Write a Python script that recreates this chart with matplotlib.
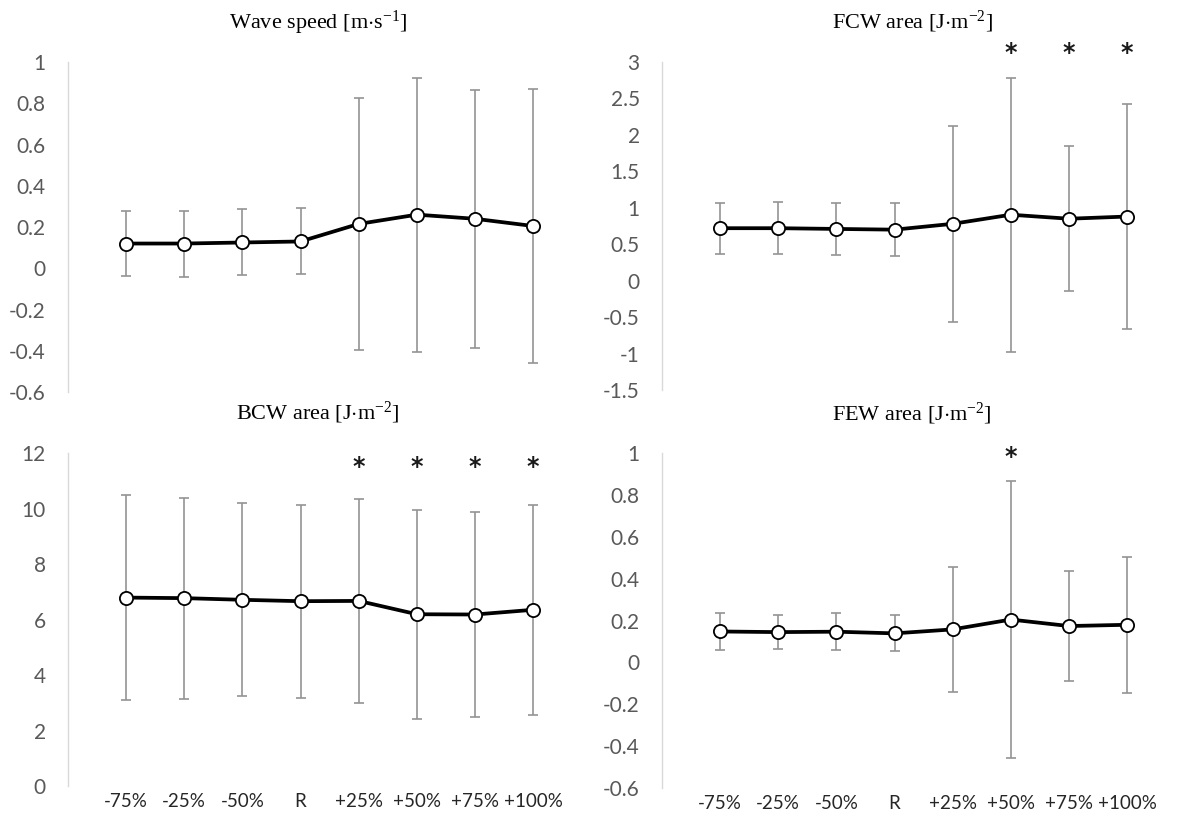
import numpy as np
import matplotlib
matplotlib.use("Agg")
import matplotlib.pyplot as plt

plt.rcParams['mathtext.fontset'] = 'custom'
plt.rcParams['mathtext.rm'] = 'Liberation Serif'
plt.rcParams['mathtext.it'] = 'Liberation Serif:italic'

labels = ['-75%', '-25%', '-50%', 'R', '+25%', '+50%', '+75%', '+100%']

# wave speed [m/s]
wave_mean = [0.12, 0.12, 0.125, 0.13, 0.215, 0.26, 0.24, 0.205]
wave_sd = [0.158, 0.16, 0.16, 0.16, 0.61, 0.665, 0.625, 0.665]

# FCW area
fcw_mean = [0.72, 0.72, 0.71, 0.70, 0.78, 0.905, 0.85, 0.88]
fcw_sd = [0.35, 0.354, 0.352, 0.359, 1.343, 1.877, 0.998, 1.548]
fcw_star = [5, 6, 7]

# BCW area
bcw_mean = [6.79, 6.77, 6.71, 6.66, 6.67, 6.19, 6.18, 6.35]
bcw_sd = [3.68, 3.62, 3.475, 3.48, 3.68, 3.765, 3.705, 3.785]
bcw_star = [4, 5, 6, 7]

# FEW area
few_mean = [0.148, 0.145, 0.147, 0.139, 0.158, 0.205, 0.174, 0.18]
few_sd = [0.09, 0.082, 0.089, 0.086, 0.30, 0.66, 0.265, 0.324]
few_star = [5]

panels = [
    (r'Wave speed [m$\cdot$s$^{-1}$]', wave_mean, wave_sd, [], None, np.arange(-0.6, 1.01, 0.2), False,
     [0.0574, 0.5178, 0.4223, 0.4059]),
    (r'FCW area [J$\cdot$m$^{-2}$]', fcw_mean, fcw_sd, fcw_star, 3.12, np.arange(-1.5, 3.01, 0.5), False,
     [0.5591, 0.5203, 0.4223, 0.4034]),
    (r'BCW area [J$\cdot$m$^{-2}$]', bcw_mean, bcw_sd, bcw_star, 11.5, np.arange(0, 12.01, 2), True,
     [0.0574, 0.0332, 0.4223, 0.4096]),
    (r'FEW area [J$\cdot$m$^{-2}$]', few_mean, few_sd, few_star, 0.98, np.arange(-0.6, 1.01, 0.2), True,
     [0.5591, 0.0308, 0.4223, 0.4117]),
]

fig = plt.figure(figsize=(11.84, 8.13), dpi=100)
x = np.arange(len(labels))

for title, mean, sd, stars, star_y, yt, show_x, pos in panels:
    ax = fig.add_axes(pos)
    ax.errorbar(x, mean, yerr=sd, fmt='none', ecolor='#939393', elinewidth=1.2,
                capsize=3.5, capthick=1.2, zorder=2)
    ax.plot(x, mean, color='black', lw=2.7, marker='o', markersize=9.5,
            markerfacecolor='white', markeredgecolor='black', markeredgewidth=1.3, zorder=3)
    for i in stars:
        ax.text(x[i], star_y, '*', ha='center', va='center', fontsize=17,
                fontweight='bold', color='#1a1a1a', clip_on=False)
    ax.set_xlim(-1, 7.6)
    ax.set_ylim(yt[0], yt[-1])
    ax.set_yticks(yt)
    ax.set_yticklabels(['{:g}'.format(round(v, 2)) for v in yt],
                       fontsize=15, color='#595959', fontfamily='Lato')
    ax.set_xticks(x)
    if show_x:
        ax.set_xticklabels(labels, fontsize=13.5, color='#262626', fontfamily='Lato')
    else:
        ax.set_xticklabels([])
    ax.tick_params(axis='both', length=0)
    ax.tick_params(axis='y', pad=16)
    ax.tick_params(axis='x', pad=5)
    for s in ['top', 'right', 'bottom']:
        ax.spines[s].set_visible(False)
    ax.spines['left'].set_color('#d9d9d9')
    ax.spines['left'].set_linewidth(1.0)
    ax.set_title(title, fontsize=16, fontfamily='Liberation Serif', pad=24)

fig.savefig('out.png', dpi=100)
